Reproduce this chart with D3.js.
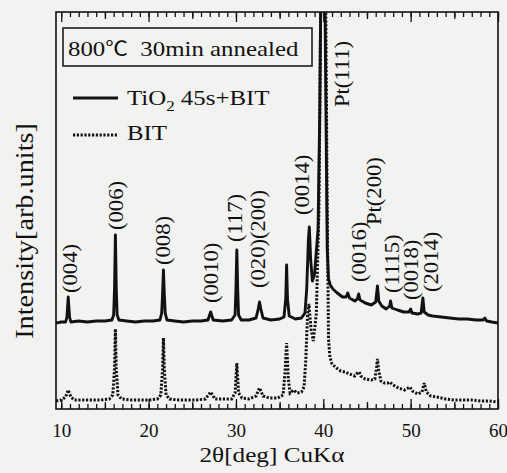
<!DOCTYPE html>
<html><head><meta charset="utf-8">
<script src="https://cdn.jsdelivr.net/npm/d3@7"></script>
<style>
html,body{margin:0;padding:0;background:#f2f2f0;}
svg{display:block;}
text{font-family:"Liberation Serif","Times New Roman",Times,serif;fill:#111;}
</style></head><body>
<svg id="c" width="507" height="473"></svg>
<script>
// ---------- data ----------
const xDomain = [9.4, 60];
const majorTicks = [10, 20, 30, 40, 50, 60];
const tickLabels = ["10", "20", "30", "40", "50", "60"];
const mediumTicks = [15, 25, 35, 45, 55];
const minorTicks = d3.range(10, 61, 1);

// TiO2 45s + BIT (solid) : [2theta, intensity arb.]
const tio2BitTrace = [
 [9.4,86],[10.0,87],[10.5,87],[10.65,92],[10.8,112],[10.95,92],[11.1,87],[12.0,88],[13.0,87],[14.0,88],[15.0,88],
 [15.8,89],[16.0,94],[16.1,120],[16.2,174],[16.3,120],[16.4,94],[16.6,89],[17.5,88],[18.5,87],[19.5,88],[20.5,88],
 [21.3,89],[21.5,96],[21.6,115],[21.7,139],[21.8,115],[21.9,96],[22.1,89],[23.0,88],[24.0,87],[25.0,88],[26.0,88],
 [26.8,89],[27.1,97],[27.4,89],[28.5,88],[29.5,89],[29.9,94],[30.0,120],[30.1,159],[30.2,120],[30.3,94],[30.6,89],
 [31.5,89],[32.3,91],[32.55,100],[32.7,107],[32.85,100],[33.1,91],[34.0,89],[35.0,90],[35.5,92],[35.7,110],[35.8,144],
 [35.9,110],[36.1,93],[36.8,90],[37.5,91],[37.9,96],[38.1,120],[38.3,170],[38.4,182],[38.55,150],[38.75,128],[39.0,135],
 [39.4,180],[39.6,300],[39.8,500],[39.95,600],[40.1,500],[40.3,300],[40.45,160],[40.6,130],[40.8,124],[41.1,120],
 [41.6,116],[42.2,112],[42.6,112],[42.8,116],[43.0,111],[43.6,108],[43.9,110],[44.05,115],[44.2,109],[44.8,106],
 [45.5,104],[46.0,107],[46.2,123],[46.35,108],[46.7,103],[47.2,100],[47.6,103],[47.7,108],[47.85,101],[48.5,99],
 [49.2,97],[49.8,97],[50.0,100],[50.15,96],[50.8,95],[51.2,96],[51.4,111],[51.55,97],[52.0,94],[52.5,93],[53.5,92],
 [54.5,91],[55.5,90],[56.5,90],[57.5,89],[58.3,89],[58.5,91],[58.7,88],[59.3,87],[60.0,86]
];

// BIT (dotted)
const bitTrace = [
 [9.4,8],[10.0,9],[10.5,12],[10.8,19],[11.1,12],[11.5,9],[12.5,9],[13.5,9],[14.5,9],[15.5,10],[15.9,14],[16.1,40],
 [16.2,80],[16.3,40],[16.5,14],[16.9,10],[18.0,9],[19.0,9],[20.0,9],[21.0,10],[21.4,14],[21.6,40],[21.7,71],[21.8,40],
 [22.0,14],[22.4,10],[23.5,9],[24.5,9],[25.5,9],[26.5,10],[27.1,17],[27.6,10],[28.5,10],[29.5,10],[29.9,16],[30.1,46],
 [30.3,16],[30.7,11],[31.5,10],[32.3,13],[32.7,21],[33.1,13],[33.8,11],[34.8,11],[35.4,14],[35.6,35],[35.8,66],[36.0,30],
 [36.2,16],[36.6,19],[37.0,16],[37.5,17],[37.8,22],[38.0,50],[38.2,95],[38.35,105],[38.6,80],[38.85,68],[39.2,95],
 [39.5,200],[39.8,500],[39.95,600],[40.2,500],[40.45,200],[40.6,70],[40.75,52],[41.0,45],[41.5,41],[42.0,38],[42.5,37],
 [43.0,35],[43.6,33],[43.9,36],[44.1,37],[44.3,33],[44.8,30],[45.5,29],[45.9,30],[46.1,42],[46.2,50],[46.35,38],[46.6,28],
 [47.0,26],[47.4,26],[47.6,27],[48.0,24],[48.6,21],[49.3,19],[49.7,21],[49.9,22],[50.2,18],[50.8,15],[51.3,17],[51.55,26],
 [51.8,17],[52.3,13],[53.0,12],[54.0,10],[55.0,9],[56.0,9],[57.0,9],[58.0,8],[59.0,8],[60.0,7]
];

// peak labels: [text, 2theta of label, intensity at label start]
const peakLabels = [
 ["(004)",11.12,116],["(006)",16.38,179],["(008)",21.76,144],["(0010)",27.26,106],["(117)",30.01,167],
 ["(020)(200)",32.64,121],["(0014)",37.68,194],["Pt(111)",42.26,302],["(0016)",44.2,127],["Pt(200)",45.92,184],
 ["(1115)",47.98,116],["(0018)",50.16,109],["(2014)",52.45,117]
];

const legendTitle = ["800", "℃", "\u00a0\u00a030min annealed"];
const seriesNames = ["TiO", "2", "\u00a045s+BIT", "BIT"];
const xTitle = "2θ[deg] CuKα";
const yTitle = "Intensity[arb.units]";

// ---------- layout ----------
const M = {left:56, right:498, top:12, bottom:409};
const K = 1.13;
const ink = "#111";
const svg = d3.select("#c");

const x = d3.scaleLinear().domain(xDomain).range([M.left, M.right]);
const y = d3.scaleLinear().domain([0, M.bottom - M.top]).range([M.bottom, M.top]);

function stretch(sel, k){
  sel.each(function(){
    const L = this.getComputedTextLength();
    this.setAttribute("textLength", L * k);
    this.setAttribute("lengthAdjust", "spacingAndGlyphs");
  });
  return sel;
}

svg.append("clipPath").attr("id","clip").append("rect")
  .attr("x", M.left).attr("y", M.top).attr("width", M.right - M.left).attr("height", M.bottom - M.top);

const line = d3.line().x(d => x(d[0])).y(d => y(d[1]));

const plot = svg.append("g").attr("clip-path","url(#clip)");
plot.append("path").datum(bitTrace).attr("d", line)
  .attr("fill","none").attr("stroke",ink).attr("stroke-width",3).attr("stroke-dasharray","2.2,1.6");
plot.append("path").datum(tio2BitTrace).attr("d", line)
  .attr("fill","none").attr("stroke",ink).attr("stroke-width",2.9).attr("stroke-linejoin","round");

// ticks
function tickAxis(axisFn, ty, values, size){
  const g = svg.append("g").attr("transform",`translate(0,${ty})`)
    .call(axisFn(x).tickValues(values).tickSize(-size).tickFormat(""));
  g.select(".domain").remove();
  g.selectAll(".tick line").attr("stroke",ink).attr("stroke-width",1.3);
  return g;
}
tickAxis(d3.axisBottom, M.bottom, minorTicks, 5);
tickAxis(d3.axisBottom, M.bottom, mediumTicks, 7);
tickAxis(d3.axisTop, M.top, minorTicks, 5);
tickAxis(d3.axisTop, M.top, mediumTicks, 7);
tickAxis(d3.axisTop, M.top, majorTicks, 10);

const gx = svg.append("g").attr("transform",`translate(0,${M.bottom})`)
  .call(d3.axisBottom(x).tickValues(majorTicks).tickSize(-10).tickPadding(15)
        .tickFormat((d,i) => tickLabels[i]));
gx.select(".domain").remove();
gx.attr("font-family", null).attr("font-size", null);
gx.selectAll(".tick line").attr("stroke",ink).attr("stroke-width",1.3);
gx.selectAll(".tick text").attr("fill",ink).style("font-size","19px")
  .style("font-family",'"Liberation Serif",serif');

// frame
svg.append("rect").attr("x",M.left).attr("y",M.top)
  .attr("width",M.right-M.left).attr("height",M.bottom-M.top)
  .attr("fill","none").attr("stroke",ink).attr("stroke-width",1.6);

// axis titles
stretch(svg.append("text").attr("x",272).attr("y",462).attr("text-anchor","middle")
  .style("font-size","21px").text(xTitle), 1.2);
const yt = svg.append("text").attr("transform","translate(33,231) rotate(-90)")
  .attr("text-anchor","middle").style("font-size","25px").text(yTitle);
stretch(yt, K);

// peak labels
peakLabels.forEach(p => {
  const t = svg.append("text")
    .attr("transform",`translate(${x(p[1])},${y(p[2])}) rotate(-90)`)
    .attr("dy","0.3em").style("font-size","20px").text(p[0]);
  stretch(t, K);
});

// legend box
svg.append("rect").attr("x",63).attr("y",28).attr("width",249).attr("height",38)
  .attr("fill","#f2f2f0").attr("stroke",ink).attr("stroke-width",1.5);
const lt = svg.append("text").attr("x",68).attr("y",56).style("font-size","22px");
lt.append("tspan").text(legendTitle[0]);
lt.append("tspan").style("font-family",'"Noto Sans CJK JP",sans-serif').style("font-size","20px").text(legendTitle[1]);
lt.append("tspan").text(legendTitle[2]);
stretch(lt, K);

// series legend
svg.append("line").attr("x1",73).attr("x2",118).attr("y1",98).attr("y2",98)
  .attr("stroke",ink).attr("stroke-width",2.8);
svg.append("line").attr("x1",73).attr("x2",118).attr("y1",135).attr("y2",135)
  .attr("stroke",ink).attr("stroke-width",3).attr("stroke-dasharray","2.2,1.6");
const s1 = svg.append("text").attr("x",127).attr("y",105).style("font-size","22px");
s1.append("tspan").text(seriesNames[0]);
s1.append("tspan").attr("dy",6).style("font-size","15px").text(seriesNames[1]);
s1.append("tspan").attr("dy",-6).text(seriesNames[2]);
stretch(s1, K);
stretch(svg.append("text").attr("x",127).attr("y",140).style("font-size","22px").text(seriesNames[3]), K);
</script>
</body></html>
